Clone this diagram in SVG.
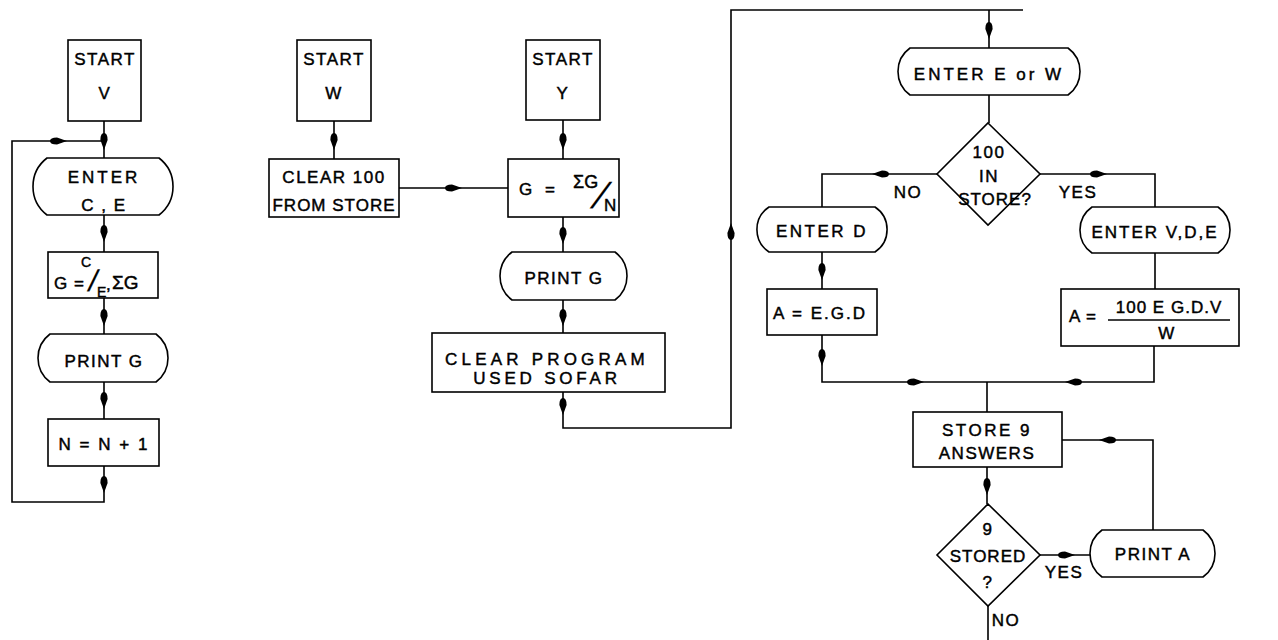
<svg xmlns="http://www.w3.org/2000/svg" xmlns:xlink="http://www.w3.org/1999/xlink" width="1278" height="640" viewBox="0 0 1278 640">
<style>
.bg{fill:#fff}
.n{fill:#fff;stroke:#000;stroke-width:1.6}
.c{fill:none;stroke:#000;stroke-width:1.6}
.t{font-family:"Liberation Sans",Arial,sans-serif;font-size:17px;fill:#000;stroke:#000;stroke-width:0.45;text-anchor:middle;letter-spacing:1.5px}
.l{text-anchor:start}
.sl{stroke-width:0.2;letter-spacing:0}
</style>
<defs>
<path id="ah" d="M9,0 L-1,-3.6 Q-8,-3.6 -8,0 Q-8,3.6 -1,3.6 Z" fill="#000"/>
</defs>
<rect class="bg" width="1278" height="640"/>
<g id="connectors">
<path class="c" d="M104,121 V158 M104,215 V252 M104,298 V334 M104,382 V419 M104,466 V502 H12 V141 H104"/>
<path class="c" d="M334,121 V159 M399,188 H508"/>
<path class="c" d="M563,120 V159 M563,217 V252 M563,300 V333 M563,392 V428 H731 V10 H1023 M989,10 V48"/>
<path class="c" d="M989,95 V123 M938,174 H822 V207 M822,252 V289 M822,335 V382 H1154 V346 M1040,174 H1155 V207 M1155,253 V289"/>
<path class="c" d="M987,382 V412 M987,467 V504 M1040,555 H1090 M1153,530 V440 H1062 M988,606 V640"/>
<use xlink:href="#ah" transform="translate(104,141) rotate(90)"/>
<use xlink:href="#ah" transform="translate(58,141)"/>
<use xlink:href="#ah" transform="translate(104,233) rotate(90)"/>
<use xlink:href="#ah" transform="translate(104,317) rotate(90)"/>
<use xlink:href="#ah" transform="translate(104,400) rotate(90)"/>
<use xlink:href="#ah" transform="translate(104,484) rotate(90)"/>
<use xlink:href="#ah" transform="translate(334,141) rotate(90)"/>
<use xlink:href="#ah" transform="translate(453,188)"/>
<use xlink:href="#ah" transform="translate(563,141) rotate(90)"/>
<use xlink:href="#ah" transform="translate(563,235) rotate(90)"/>
<use xlink:href="#ah" transform="translate(563,317) rotate(90)"/>
<use xlink:href="#ah" transform="translate(563,406) rotate(90)"/>
<use xlink:href="#ah" transform="translate(731,232) rotate(-90)"/>
<use xlink:href="#ah" transform="translate(989,30) rotate(90)"/>
<use xlink:href="#ah" transform="translate(881,174) rotate(180)"/>
<use xlink:href="#ah" transform="translate(1098,174)"/>
<use xlink:href="#ah" transform="translate(822,271) rotate(90)"/>
<use xlink:href="#ah" transform="translate(822,357) rotate(90)"/>
<use xlink:href="#ah" transform="translate(915,382)"/>
<use xlink:href="#ah" transform="translate(1074,382) rotate(180)"/>
<use xlink:href="#ah" transform="translate(987,486) rotate(90)"/>
<use xlink:href="#ah" transform="translate(1108,440) rotate(180)"/>
<use xlink:href="#ah" transform="translate(1066,555)"/>
</g>
<g id="startV">
<rect class="n" x="68" y="40" width="73" height="81"/>
<text class="t" x="105" y="65">START</text>
<text class="t" x="105" y="99">V</text>
</g>
<g id="enterCE">
<path class="n" d="M47,158 H159 A36,36 0 0 1 159,215 H47 A36,36 0 0 1 47,158 Z"/>
<text class="t" x="104" y="183" style="letter-spacing:3px">ENTER</text>
<text class="t" x="104" y="211">C , E</text>
</g>
<g id="gCE">
<rect class="n" x="48" y="252" width="110" height="46"/>
<text class="t l" x="54" y="289" style="letter-spacing:1px">G =</text>
<text class="t l" x="81" y="267" style="font-size:14px;letter-spacing:0">C</text>
<text class="t l sl" transform="translate(87,291) skewX(-12)" style="font-size:30px">/</text>
<text class="t l" x="97" y="297" style="font-size:14px;letter-spacing:0">E</text>
<text class="t l" x="106" y="290" style="letter-spacing:0">,</text>
<text class="t l" x="112" y="289" style="font-size:19px;letter-spacing:0">ΣG</text>
</g>
<g id="printG1">
<path class="n" d="M50,334 H156 A30,30 0 0 1 156,382 H50 A30,30 0 0 1 50,334 Z"/>
<text class="t" x="104" y="367">PRINT G</text>
</g>
<g id="nInc">
<rect class="n" x="48" y="419" width="111" height="47"/>
<text class="t" x="104" y="450" style="letter-spacing:2px">N = N + 1</text>
</g>
<g id="startW">
<rect class="n" x="297" y="40" width="74" height="81"/>
<text class="t" x="334" y="65">START</text>
<text class="t" x="334" y="99">W</text>
</g>
<g id="clear100">
<rect class="n" x="269" y="159" width="130" height="58"/>
<text class="t" x="334" y="183">CLEAR 100</text>
<text class="t" x="334" y="211" style="letter-spacing:1px">FROM STORE</text>
</g>
<g id="startY">
<rect class="n" x="526" y="40" width="74" height="80"/>
<text class="t" x="563" y="65">START</text>
<text class="t" x="563" y="99">Y</text>
</g>
<g id="gSum">
<rect class="n" x="508" y="159" width="111" height="58"/>
<text class="t l" x="519" y="195" style="letter-spacing:0">G</text>
<text class="t l" x="545" y="195" style="letter-spacing:0">=</text>
<text class="t l" x="573" y="188" style="font-size:18px;letter-spacing:0">ΣG</text>
<text class="t l sl" transform="translate(590,208) skewX(-25)" style="font-size:36px">/</text>
<text class="t l" x="604" y="211" style="letter-spacing:0">N</text>
</g>
<g id="printG2">
<path class="n" d="M512,252 H615 A30,30 0 0 1 615,300 H512 A30,30 0 0 1 512,252 Z"/>
<text class="t" x="564" y="284">PRINT G</text>
</g>
<g id="clearProgram">
<rect class="n" x="432" y="333" width="233" height="59"/>
<text class="t" x="547" y="365" style="letter-spacing:4.2px">CLEAR  PROGRAM</text>
<text class="t" x="547" y="384" style="letter-spacing:3.8px">USED SOFAR</text>
</g>
<g id="enterEW">
<path class="n" d="M910,48 H1068 A29,29 0 0 1 1068,95 H910 A29,29 0 0 1 910,48 Z"/>
<text class="t" x="989" y="80" style="letter-spacing:3px">ENTER E or  W</text>
</g>
<g id="d100">
<polygon class="n" points="988,123 1040,174 988,225 937,174"/>
<text class="t" x="989" y="158">100</text>
<text class="t" x="989" y="182">IN</text>
<text class="t" x="995" y="205" style="letter-spacing:1px">STORE?</text>
</g>
<text class="t" x="908" y="198">NO</text>
<text class="t" x="1078" y="198">YES</text>
<g id="enterD">
<path class="n" d="M769,207 H875 A27,27 0 0 1 875,252 H769 A27,27 0 0 1 769,207 Z"/>
<text class="t" x="822" y="237" style="letter-spacing:2.5px">ENTER D</text>
</g>
<g id="enterVDE">
<path class="n" d="M1092,207 H1218 A28,28 0 0 1 1218,253 H1092 A28,28 0 0 1 1092,207 Z"/>
<text class="t" x="1155" y="238" style="letter-spacing:2px">ENTER V,D,E</text>
</g>
<g id="aEGD">
<rect class="n" x="767" y="289" width="110" height="46"/>
<text class="t" x="820" y="319" style="letter-spacing:2px">A = E.G.D</text>
</g>
<g id="aFormula">
<rect class="n" x="1061" y="289" width="178" height="57"/>
<text class="t" x="1083" y="322" style="letter-spacing:1px">A =</text>
<text class="t" x="1169" y="313" style="letter-spacing:1px">100 E G.D.V</text>
<path class="c" d="M1108,320 H1230"/>
<text class="t" x="1167" y="339">W</text>
</g>
<g id="store9">
<rect class="n" x="913" y="412" width="149" height="55"/>
<text class="t" x="987" y="436" style="letter-spacing:2.5px">STORE 9</text>
<text class="t" x="987" y="459" style="letter-spacing:1.5px">ANSWERS</text>
</g>
<g id="d9">
<polygon class="n" points="988,504 1040,555 988,606 937,555"/>
<text class="t" x="988" y="535">9</text>
<text class="t" x="988" y="562" style="letter-spacing:1px">STORED</text>
<text class="t" x="988" y="588">?</text>
</g>
<text class="t" x="1064" y="578">YES</text>
<text class="t" x="1006" y="626">NO</text>
<g id="printA">
<path class="n" d="M1102,530 H1203 A29,29 0 0 1 1203,577 H1102 A29,29 0 0 1 1102,530 Z"/>
<text class="t" x="1153" y="560">PRINT A</text>
</g>
</svg>
